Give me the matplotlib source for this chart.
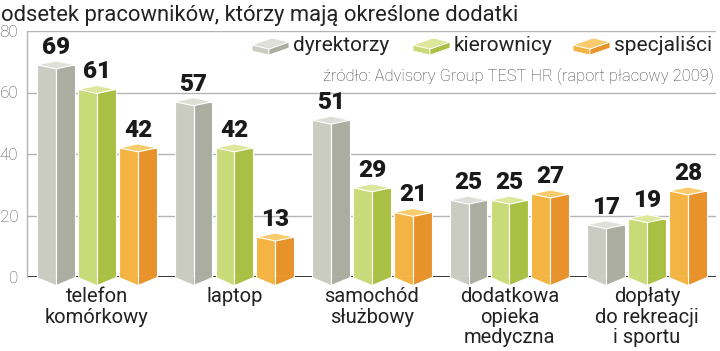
import matplotlib.pyplot as plt
from matplotlib.patches import Polygon
import numpy as np

plt.rcParams['font.family'] = ['Roboto', 'DejaVu Sans']

kategorie = ['telefon\nkomórkowy', 'laptop', 'samochód\nsłużbowy',
             'dodatkowa\nopieka\nmedyczna', 'dopłaty\ndo rekreacji\ni sportu']
dyrektorzy = [69, 57, 51, 25, 17]
kierownicy = [61, 42, 29, 25, 19]
specjalisci = [42, 13, 21, 27, 28]
serie = ['dyrektorzy', 'kierownicy', 'specjaliści']

# kolory: lewa sciana, prawa sciana, gora
kolory = [('#cbccc1', '#acada1', '#dedfd6'),
          ('#c9da78', '#a9c044', '#dce79c'),
          ('#f4b443', '#e8922b', '#f8cc6d')]

W, H = 720, 351
fig = plt.figure(figsize=(W / 100, H / 100), dpi=100)
ax = fig.add_axes([27 / W, (H - 277) / H, (716 - 27) / W, (277 - 31) / H])
ax.set_xlim(-0.509, 4.502)
ax.set_ylim(0, 80)
for s in ax.spines.values():
    s.set_visible(False)
ax.spines['left'].set_visible(True)
ax.spines['left'].set_color('#b4b4b4')
ax.spines['left'].set_linewidth(1)
ax.set_xticks([])
ax.set_yticks([0, 20, 40, 60, 80])
ax.tick_params(axis='y', length=0, pad=6.3, labelsize=12.3, labelcolor='#555555')
for t in ax.get_yticklabels():
    t.set_fontweight('light')

for yy in [20, 40, 60, 80]:
    ax.axhline(yy, color='#b4b4b4', lw=1, zorder=0)
ax.axhline(0, color='#222222', lw=2, zorder=1)

x = np.arange(len(kategorie))
off = 0.298
hw = 0.138
dy = 1.3
for k, vals in enumerate([dyrektorzy, kierownicy, specjalisci]):
    cl, cr, ct = kolory[k]
    cx = x + (k - 1) * off
    ax.bar(cx - hw, vals, width=hw, align='edge', color=cl,
           edgecolor='white', lw=0.8, zorder=3)
    ax.bar(cx, vals, width=hw, align='edge', color=cr,
           edgecolor='white', lw=0.8, zorder=3)
    for c, v in zip(cx, vals):
        # dolne skosy
        ax.add_patch(Polygon([(c - hw, 0), (c, 0), (c, -dy * 2)], closed=True,
                             fc=cl, ec='none', zorder=3, clip_on=False))
        ax.add_patch(Polygon([(c, 0), (c + hw, 0), (c, -dy * 2)], closed=True,
                             fc=cr, ec='none', zorder=3, clip_on=False))
        ax.plot([c, c], [-dy * 2, v - dy], color='white', lw=0.8, zorder=4,
                clip_on=False)
        # gorna sciana
        ax.add_patch(Polygon([(c - hw, v), (c, v - dy), (c + hw, v), (c, v + dy)],
                             closed=True, fc=ct, ec='white', lw=0.8, zorder=4))
        ax.annotate(str(v), (c, v), xytext=(0, 8), textcoords='offset points',
                    ha='center', va='baseline', fontsize=17.5,
                    fontweight='black', color='#1a1a1a', zorder=5)

for i, lab in enumerate(kategorie):
    ax.annotate(lab, (x[i], 0), xytext=(0, -7), textcoords='offset points',
                ha='center', va='top', fontsize=14.5, color='#222222',
                linespacing=1.12, annotation_clip=False)


def px(a, b):
    return (a / W, 1 - b / H)


fig.text(*px(1, 21), 'odsetek pracowników, którzy mają określone dodatki',
         fontsize=15.8, color='#222222', va='baseline', ha='left')

# legenda
leg_x = [252, 413, 573]
for k, lx in enumerate(leg_x):
    cl, cr, ct = kolory[k]
    top = [px(lx, 45), px(lx + 20, 38), px(lx + 37, 42), px(lx + 17, 49)]
    lft = [px(lx, 45), px(lx + 17, 49), px(lx + 17, 55), px(lx, 51)]
    rgt = [px(lx + 17, 49), px(lx + 37, 42), px(lx + 37, 48), px(lx + 17, 55)]
    for pts, c in [(lft, cl), (rgt, cr), (top, ct)]:
        fig.patches.append(Polygon(pts, closed=True, fc=c, ec='white', lw=0.6,
                                   transform=fig.transFigure))
    fig.text(*px(lx + 41, 51), serie[k], fontsize=15, color='#222222',
             va='baseline', ha='left')

fig.text(*px(714, 81), 'źródło: Advisory Group TEST HR (raport płacowy 2009)',
         fontsize=11.9, color='#444444', fontweight='light',
         va='baseline', ha='right')

fig.savefig('out.png', dpi=100)
